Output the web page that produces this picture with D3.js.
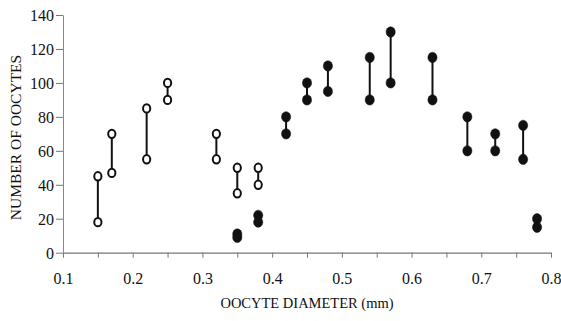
<!DOCTYPE html>
<html>
<head>
<meta charset="utf-8">
<script src="https://cdn.jsdelivr.net/npm/d3@7"></script>
<style>
  body { margin: 0; background: #fff; }
  svg text { font-family: "Liberation Serif", "DejaVu Serif", serif; fill: #111; }
</style>
</head>
<body>
<script>
// diameter (mm), high count, low count
var openDiam = [0.15, 0.17, 0.22, 0.25, 0.32, 0.35, 0.38];
var openHigh = [45, 70, 85, 100, 70, 50, 50];
var openLow  = [18, 47, 55, 90, 55, 35, 40];

var filledDiam = [0.35, 0.38, 0.42, 0.45, 0.48, 0.54, 0.57, 0.63, 0.68, 0.72, 0.76, 0.78];
var filledHigh = [11, 22, 80, 100, 110, 115, 130, 115, 80, 70, 75, 20];
var filledLow  = [9, 18, 70, 90, 95, 90, 100, 90, 60, 60, 55, 15];

var xTicks = [0.1, 0.2, 0.3, 0.4, 0.5, 0.6, 0.7, 0.8];
var xMinorTicks = [0.15, 0.25, 0.35, 0.45, 0.55, 0.65, 0.75];
var yTicks = [0, 20, 40, 60, 80, 100, 120, 140];

var width = 561,
    height = 321;

var svg = d3.select("body")
  .append("svg")
  .attr("width", width)
  .attr("height", height);

var x = d3.scaleLinear()
    .domain([0.1, 0.8])
    .range([63, 551]);

var y = d3.scaleLinear()
    .domain([0, 140])
    .range([252.7, 15]);

var serif = '"Liberation Serif", "DejaVu Serif", serif';

// axes
var xAxis = svg.append("g")
    .attr("transform", "translate(0," + y(0) + ")")
    .call(d3.axisBottom(x)
      .tickValues(xTicks.concat(xMinorTicks))
      .tickSize(5)
      .tickSizeOuter(0)
      .tickFormat(function(d) { return xTicks.indexOf(d) >= 0 ? d3.format(".1f")(d) : ""; }))
    .attr("font-family", serif);
xAxis.select(".domain").attr("stroke", "#777").attr("stroke-width", 1.3);
xAxis.selectAll(".tick line").attr("stroke", "#777");
xAxis.selectAll(".tick text")
    .attr("font-size", 16)
    .attr("dy", 0)
    .attr("y", 31);

var yAxis = svg.append("g")
    .attr("transform", "translate(" + x(0.1) + ",0)")
    .call(d3.axisLeft(y)
      .tickValues(yTicks)
      .tickSize(7)
      .tickSizeOuter(0)
      .tickFormat(d3.format("d")))
    .attr("font-family", serif);
yAxis.select(".domain").attr("stroke", "#888").attr("stroke-width", 1);
yAxis.selectAll(".tick line").attr("stroke", "#777");
yAxis.selectAll(".tick text")
    .attr("font-size", 16)
    .attr("x", -9)
    .attr("dy", "0.34em");

// titles
svg.append("text")
    .attr("x", 307)
    .attr("y", 308)
    .attr("text-anchor", "middle")
    .attr("font-size", 14.5)
    .text("OOCYTE DIAMETER (mm)");

svg.append("text")
    .attr("transform", "translate(21,137.5) rotate(-90)")
    .attr("text-anchor", "middle")
    .attr("font-size", 15.5)
    .text("NUMBER OF OOCYTES");

// connecting lines and markers
function drawSeries(diam, high, low, filled) {
  var g = svg.append("g");
  g.selectAll("line")
    .data(diam)
    .enter().append("line")
      .attr("x1", function(d) { return x(d); })
      .attr("x2", function(d) { return x(d); })
      .attr("y1", function(d, i) { return y(high[i]); })
      .attr("y2", function(d, i) { return y(low[i]); })
      .attr("stroke", "#111")
      .attr("stroke-width", 2);

  var pts = [];
  diam.forEach(function(d, i) {
    pts.push([d, high[i]]);
    pts.push([d, low[i]]);
  });

  g.selectAll("ellipse")
    .data(pts)
    .enter().append("ellipse")
      .attr("cx", function(d) { return x(d[0]); })
      .attr("cy", function(d) { return y(d[1]); })
      .attr("rx", filled ? 4.6 : 3.6)
      .attr("ry", filled ? 5.2 : 4.2)
      .attr("fill", filled ? "#111" : "#fff")
      .attr("stroke", "#111")
      .attr("stroke-width", filled ? 0.5 : 2);
}

drawSeries(openDiam, openHigh, openLow, false);
drawSeries(filledDiam, filledHigh, filledLow, true);
</script>
</body>
</html>
